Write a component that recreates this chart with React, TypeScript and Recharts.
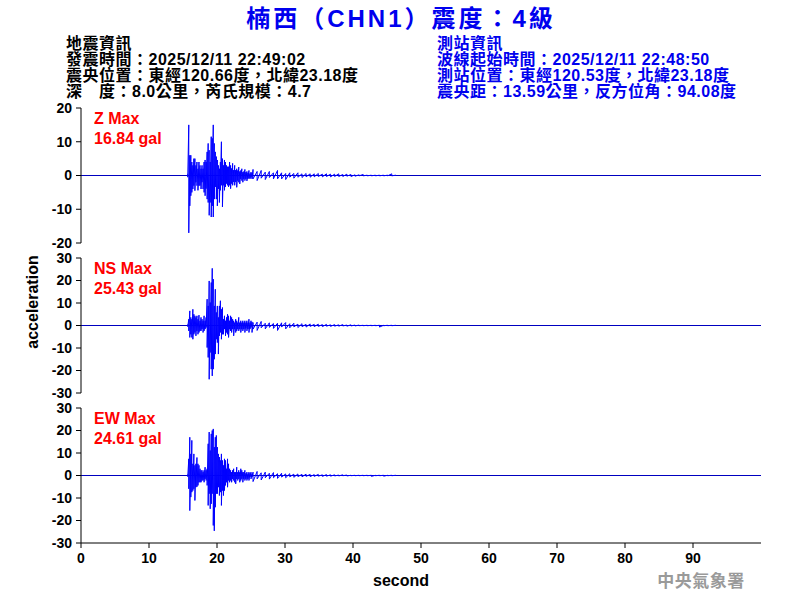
import { Line, LineChart, ReferenceLine, XAxis, YAxis } from "recharts";

// seismogram sampling: dense part of the record, then a coarser tail
const denseStart = 15.7;
const denseStep = 0.15;
const tailStart = 25.3;
const tailStep = 0.6;

const timeTicks = [0, 10, 20, 30, 40, 50, 60, 70, 80, 90];
const zTicks = [-20, -10, 0, 10, 20];
const hTicks = [-30, -20, -10, 0, 10, 20, 30];

// Z component (gal), per-sample peak / trough
const zDenseHigh = [
  0.5, 15, 6, 6, 4, 3, 5, 5,
  3, 4, 2, 4, 3, 2, 3, 2,
  4, 4.6, 4, 7, 9.5, 7.5, 4, 11.5,
  11, 15, 9.5, 7, 5.6, 4.6, 3, 2,
  4, 10, 5, 3, 4.6, 4, 3, 2.6,
  2.6, 4, 3, 2.1, 3.6, 1.6, 3, 1.6,
  2, 1.5, 2.5, 1.2, 1.5, 2, 1, 1.2,
  1.8, 1, 1.2, 0.8, 1.5, 0.6, 1, 0.8,
];
const zDenseLow = [
  -0.5, -17, -9, -6, -5, -4, -3, -4.5,
  -2, -3, -4.4, -3, -3, -4, -2, -4,
  -5, -6, -3.9, -7, -8, -11.8, -8, -12.3,
  -9, -12.3, -7, -3.4, -7, -9, -4, -8,
  -4.4, -2.9, -9.3, -2.9, -4.4, -3.4, -2.4, -2.9,
  -3.4, -2.9, -3.9, -2.4, -2.9, -1.9, -2.9, -1.9,
  -3.5, -1.5, -2, -2.5, -1, -1.5, -2, -1,
  -1.5, -1, -1.6, -1, -0.8, -1, -0.6, -1,
];
const zTailHigh = [
  1.8, 1.2, 1.5, 1, 1.2, 0.8, 1.5, 0.8,
  0.6, 0.8, 0.6, 0.8, 0.5, 0.6, 0.5, 0.5,
  0.6, 0.4, 0.5, 0.4, 0.4, 0.5, 0.3, 0.4,
  0.3, 0.2, 0.2, 0.3, 0.1, 0.1, 0.1, 0.1,
  0.1, 0.1, 0.5, 0.1,
];
const zTailLow = [
  -1, -1.5, -0.8, -1.2, -0.6, -1, -1, -1,
  -1.2, -0.5, -0.8, -0.5, -0.6, -0.4, -0.5, -0.4,
  -0.3, -0.4, -0.3, -0.4, -0.3, -0.3, -0.3, -0.2,
  -0.3, -0.2, -0.1, -0.1, -0.1, -0.1, -0.1, -0.1,
  -0.1, -0.1, -0.1, -0.1,
];

// NS component
const nsDenseHigh = [
  0.5, 2.8, 6.5, 3.6, 2.8, 7.2, 5, 4.3,
  3.6, 4.3, 2.8, 4.6, 2.1, 3.6, 2.8, 2.1,
  4.3, 2.1, 3.6, 11.7, 8.7, 19.8, 10.2, 19.1,
  25.4, 20.6, 8.7, 16.1, 5.8, 8.7, 3.6, 8.7,
  11, 7.2, 8, 2.8, 4.3, 2.1, 3.6, 5,
  4.3, 2.1, 4.3, 3.6, 2.8, 2.1, 1.3, 2.8,
  2.1, 1.3, 3.6, 1.3, 2.1, 1.3, 2.1, 1.3,
  2.1, 1.3, 2.1, 1.3, 2.8, 1.3, 2.1, 1.6,
];
const nsDenseLow = [
  -0.5, -2.4, -5.3, -3.9, -5.3, -6.1, -3.9, -3.1,
  -4.6, -2.4, -3.9, -3.1, -2.4, -2.4, -1.6, -3.1,
  -2.4, -1.6, -0.9, -9.8, -14.2, -23.9, -12, -19.4,
  -22.4, -19.4, -15, -12.7, -6.1, -7.6, -12.7, -4.6,
  -3.1, -6.1, -3.9, -3.9, -1.6, -4.6, -3.1, -3.9,
  -5.3, -1.6, -2.4, -3.1, -1.6, -4.6, -1.6, -3.1,
  -2.4, -1.6, -2.4, -1.6, -3.1, -1.6, -2.4, -1.6,
  -3.1, -1.3, -2.4, -1.6, -3.1, -1.6, -0.9, -3.1,
];
const nsTailHigh = [
  1.3, 1.5, 1.8, 1, 1.2, 0.9, 1, 1.2,
  1.3, 0.8, 1, 0.6, 0.8, 0.5, 0.7, 0.5,
  0.6, 0.4, 0.5, 0.3, 0.4, 0.3, 0.4, 0.2,
  0.3, 0.2, 0.2, 0.1, 0.1, 0.1, 0.1, 0.1,
  0.1, 0.1, 0.1, 0.1,
];
const nsTailLow = [
  -1.6, -2.2, -1, -1.5, -0.8, -1.3, -2.2, -0.7,
  -1.5, -1, -0.6, -0.9, -0.5, -0.7, -0.4, -0.5,
  -0.4, -0.5, -0.3, -0.4, -0.3, -0.3, -0.2, -0.3,
  -0.2, -0.2, -0.1, -0.1, -0.1, -0.1, -0.1, -0.7,
  -0.1, -0.1, -0.1, -0.1,
];

// EW component
const ewDenseHigh = [
  0.5, 7.4, 17, 9.6, 15.6, 5.2, 9.6, 4.5,
  5.2, 8, 5.2, 4.5, 3, 2.3, 2.3, 1.5,
  2.3, 3.7, 2.3, 3, 14.1, 19.3, 11.1, 18.5,
  20, 20.7, 12.6, 17, 17.8, 12.6, 9.6, 8.2,
  6.7, 9.6, 6.7, 4.5, 7.4, 6.7, 3, 7.4,
  5.2, 3, 2.3, 1.5, 2.3, 3, 1.5, 1.5,
  3.7, 1.5, 2.3, 1.5, 3, 2.3, 1.5, 1.5,
  2.3, 1, 1.5, 0.8, 1.5, 1, 1.5, 0.8,
];
const ewDenseLow = [
  -0.5, -5.9, -15.6, -9.6, -7.4, -6.7, -5.9, -11.1,
  -5.2, -5, -4.4, -3, -3, -3, -2.2, -2.2,
  -3, -1.5, -2.2, -4.4, -13.3, -8.1, -14.8, -12.6,
  -8.1, -22.2, -24.6, -14.1, -8.1, -8.1, -5.2, -8.9,
  -7.4, -13.3, -6.7, -8.9, -6.7, -4.4, -3, -5.2,
  -2.2, -3, -2.2, -3, -1.5, -2.2, -3, -3.7,
  -1.5, -2.2, -1.5, -3, -2.2, -1.5, -3, -1.5,
  -2.2, -1.5, -2.2, -1.5, -2.2, -0.7, -1.5, -0.7,
];
const ewTailHigh = [
  1.5, 1.8, 1.2, 1.5, 1, 1.3, 0.8, 1,
  0.7, 0.8, 0.6, 0.7, 0.5, 0.6, 0.5, 0.4,
  0.5, 0.3, 0.4, 0.3, 0.3, 0.2, 0.3, 0.2,
  0.1, 0.1, 0.1, 0.1, 0.1, 0.1, 0.1, 0.1,
  0.1, 0.1, 0.1, 0.1,
];
const ewTailLow = [
  -2.7, -1.5, -2, -1, -1.6, -1, -1.3, -0.7,
  -1, -0.6, -0.8, -0.5, -0.6, -0.4, -0.5, -0.4,
  -0.3, -0.4, -0.3, -0.3, -0.2, -0.2, -0.1, -0.2,
  -0.1, -0.1, -0.1, -0.1, -0.1, -0.4, -0.1, -0.1,
  -0.3, -0.1, -0.1, -0.1,
];

const leftInfo = [
  "地震資訊",
  "發震時間：2025/12/11 22:49:02",
  "震央位置：東經120.66度，北緯23.18度",
  "深　度：8.0公里，芮氏規模：4.7",
];
const rightInfo = [
  "測站資訊",
  "波線起始時間：2025/12/11 22:48:50",
  "測站位置：東經120.53度，北緯23.18度",
  "震央距：13.59公里，反方位角：94.08度",
];

type Pt = { t: number; v: number };

function buildTrace(dHi: number[], dLo: number[], tHi: number[], tLo: number[]): Pt[] {
  const pts: Pt[] = [];
  dHi.forEach((hi, i) => {
    const t = denseStart + i * denseStep;
    pts.push({ t, v: hi }, { t, v: dLo[i] });
  });
  tHi.forEach((hi, i) => {
    const t = tailStart + i * tailStep;
    pts.push({ t, v: hi }, { t, v: tLo[i] });
  });
  return pts;
}

const zTrace = buildTrace(zDenseHigh, zDenseLow, zTailHigh, zTailLow);
const nsTrace = buildTrace(nsDenseHigh, nsDenseLow, nsTailHigh, nsTailLow);
const ewTrace = buildTrace(ewDenseHigh, ewDenseLow, ewTailHigh, ewTailLow);

const font = "'Liberation Sans', Arial, 'Noto Sans CJK TC', sans-serif";
const tickStyle = { fill: "#000", fontSize: 14, fontWeight: 700, fontFamily: font };

function Panel({
  top,
  height,
  data,
  ticks,
  showX,
}: {
  top: number;
  height: number;
  data: Pt[];
  ticks: number[];
  showX: boolean;
}) {
  const lim = ticks[ticks.length - 1];
  return (
    <div style={{ position: "absolute", left: 0, top }}>
      <LineChart
        width={800}
        height={height}
        data={data}
        margin={{ top: 8, right: 39, bottom: showX ? 27 : 7, left: 21 }}
        style={{ overflow: "visible" }}
      >
        <XAxis
          dataKey="t"
          type="number"
          domain={[0, 100]}
          ticks={timeTicks}
          hide={!showX}
          height={30}
          tickSize={5}
          tickMargin={5}
          tick={tickStyle}
          axisLine={{ stroke: "#000" }}
          tickLine={{ stroke: "#000" }}
          interval={0}
        />
        <YAxis
          type="number"
          domain={[-lim, lim]}
          ticks={ticks}
          allowDataOverflow
          width={60}
          tickSize={5}
          tickMargin={4}
          tick={tickStyle}
          axisLine={{ stroke: "#000" }}
          tickLine={{ stroke: "#000" }}
          interval={0}
        />
        <ReferenceLine y={0} stroke="#0000c0" strokeWidth={1} />
        <Line
          dataKey="v"
          type="linear"
          stroke="#0000ff"
          strokeWidth={1}
          dot={false}
          isAnimationActive={false}
        />
      </LineChart>
    </div>
  );
}

export default function App() {
  const maxLabels = [
    { name: "Z Max", value: "16.84 gal", y: 124 },
    { name: "NS Max", value: "25.43 gal", y: 274 },
    { name: "EW Max", value: "24.61 gal", y: 424 },
  ];
  return (
    <div style={{ position: "absolute", left: 0, top: 0, width: 800, height: 600, background: "#fff" }}>
      <Panel top={100} height={150} data={zTrace} ticks={zTicks} showX={false} />
      <Panel top={250} height={150} data={nsTrace} ticks={hTicks} showX={false} />
      <Panel top={400} height={200} data={ewTrace} ticks={hTicks} showX={true} />
      <svg
        width={800}
        height={600}
        style={{ position: "absolute", left: 0, top: 0, pointerEvents: "none" }}
      >
        <text
          x={401}
          y={27}
          textAnchor="middle"
          fill="#0000ee"
          fontSize={24}
          fontWeight={700}
          letterSpacing={3}
          fontFamily={font}
        >
          楠西（CHN1）震度：4級
        </text>
        {leftInfo.map((line, i) => (
          <text
            key={`l-${i}`}
            x={66}
            y={49 + i * 16}
            fill="#000"
            fontSize={16}
            fontWeight={700}
            letterSpacing={0.5}
            fontFamily={font}
          >
            {line}
          </text>
        ))}
        {rightInfo.map((line, i) => (
          <text
            key={`r-${i}`}
            x={437}
            y={49 + i * 16}
            fill="#0000ee"
            fontSize={16}
            fontWeight={700}
            letterSpacing={0.5}
            fontFamily={font}
          >
            {line}
          </text>
        ))}
        {maxLabels.map((m) => (
          <g key={m.name} fill="#ff0000" fontSize={16} fontWeight={700} fontFamily={font}>
            <text x={94} y={m.y}>
              {m.name}
            </text>
            <text x={94} y={m.y + 20}>
              {m.value}
            </text>
          </g>
        ))}
        <text
          x={32}
          y={302}
          transform="rotate(-90, 32, 302)"
          textAnchor="middle"
          dominantBaseline="central"
          fill="#000"
          fontSize={16}
          fontWeight={700}
          fontFamily={font}
        >
          acceleration
        </text>
        <text x={401} y={586} textAnchor="middle" fill="#000" fontSize={16} fontWeight={700} fontFamily={font}>
          second
        </text>
        <text
          x={701}
          y={587}
          textAnchor="middle"
          fill="#9a9a9a"
          fontSize={17}
          fontWeight={700}
          letterSpacing={0.5}
          fontFamily="'Noto Sans CJK TC', sans-serif"
        >
          中央氣象署
        </text>
      </svg>
    </div>
  );
}
